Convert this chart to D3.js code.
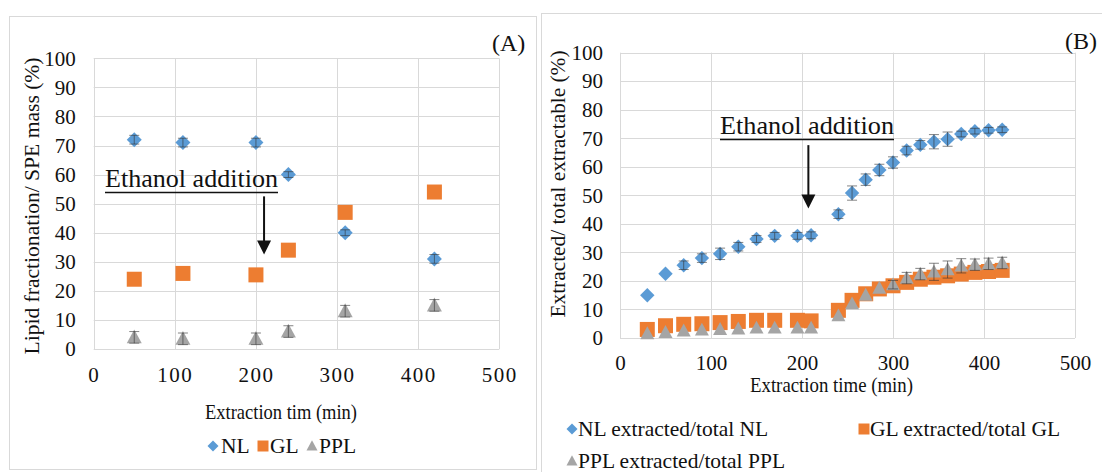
<!DOCTYPE html>
<html><head><meta charset="utf-8">
<script src="https://cdn.jsdelivr.net/npm/d3@7"></script>
<style>
html,body{margin:0;padding:0;background:#fff;}
svg{display:block;font-family:"Liberation Serif","Times New Roman",Tinos,"DejaVu Serif",serif;}
svg text{font-family:"Liberation Serif","Times New Roman",Tinos,"DejaVu Serif",serif;}
</style></head>
<body><svg id="c" width="1102" height="472"></svg>
<script>
// ---- Panel A data ----
const timeA = [50, 110, 200, 240, 310, 420];
const nlA = [72, 71, 71, 60, 40, 31];
const glA = [24, 26, 25.5, 34, 47, 54];
const pplA = [4, 3.5, 3.5, 6, 13, 15];
const nlAErr = [1.5, 1.5, 1.5, 1, 1, 1.5];
const glAErr = [0, 0, 0, 0, 0, 0];
const pplAErr = [2, 2, 2, 2, 2, 2];
// ---- Panel B data ----
const timeB = [30, 50, 70, 90, 110, 130, 150, 170, 195, 210, 240, 255, 270, 285, 300, 315, 330, 345, 360, 375, 390, 405, 420];
const nlB = [15, 22.5, 25.5, 28, 29.5, 32, 34.7, 35.8, 35.8, 36, 43.4, 50.8, 55.5, 58.9, 61.5, 65.7, 67.7, 68.8, 69.7, 71.5, 72.5, 72.8, 73];
const glB = [3, 4.3, 4.8, 5, 5.4, 5.8, 6.2, 6.2, 6.2, 6, 9.7, 13.2, 15.5, 17.2, 18.3, 19.5, 20.6, 21.3, 21.8, 22.4, 23, 23.3, 23.7];
const pplB = [1.5, 2, 2.5, 2.8, 3, 3.2, 3.5, 3.5, 3.5, 3.5, 7.8, 12, 15, 17.5, 18.7, 21, 22.4, 23.2, 24, 25.3, 25.7, 26, 26.3];
const nlBErr = [0, 0, 1.5, 1.5, 2, 1.5, 1.2, 1.2, 1.2, 1.2, 1.5, 2.5, 2, 2, 2, 1.5, 1.5, 2.5, 2.5, 1, 1, 1, 1];
const glBErr = [0, 0, 0, 0, 0, 0, 0, 0, 0, 0, 0, 0, 0, 0, 0, 0, 0, 0, 0, 0, 0, 0, 0];
const pplBErr = [0, 0, 0, 0, 0, 0, 0, 0, 0, 0, 0, 0, 0, 0, 1.5, 2, 2, 3, 3, 2.5, 2, 2, 2];
// ---- ticks / labels ----
const yTicks = [0, 10, 20, 30, 40, 50, 60, 70, 80, 90, 100];
const xTicks = [0, 100, 200, 300, 400, 500];
const seriesNamesA = ["NL", "GL", "PPL"];
const seriesNamesB = ["NL extracted/total NL", "GL extracted/total GL", "PPL extracted/total PPL"];
const colors = ["#5B9BD5", "#ED7D31", "#A5A5A5"];

const svg = d3.select("#c");

const shapes = {
  diamond: r => `M0,${-r}L${r},0L0,${r}L${-r},0Z`,
  square: r => `M${-r},${-r}H${r}V${r}H${-r}Z`,
  triangle: r => `M0,${-r*1.05}L${r},${r*0.8}L${-r},${r*0.8}Z`
};
const shapeOrder = ["diamond", "square", "triangle"];

// panel frames
svg.append("rect").attr("x", 9.5).attr("y", 16.5).attr("width", 527).attr("height", 453)
  .attr("fill", "none").attr("stroke", "#D9D9D9");
svg.append("rect").attr("x", 541.5).attr("y", 13.5).attr("width", 600).attr("height", 500)
  .attr("fill", "none").attr("stroke", "#D9D9D9");

function panel(cfg) {
  const x = d3.scaleLinear().domain([0, 500]).range(cfg.xr);
  const y = d3.scaleLinear().domain([0, 100]).range(cfg.yr);
  const g = svg.append("g");
  // grid
  g.selectAll(".hg").data(yTicks).join("line")
    .attr("x1", x(0)).attr("x2", x(500)).attr("y1", d => Math.round(y(d)) + 0.5).attr("y2", d => Math.round(y(d)) + 0.5)
    .attr("stroke", "#D9D9D9").attr("stroke-width", 1);
  g.selectAll(".vg").data(xTicks).join("line")
    .attr("y1", y(0)).attr("y2", y(100)).attr("x1", d => Math.round(x(d)) + 0.5).attr("x2", d => Math.round(x(d)) + 0.5)
    .attr("stroke", "#D9D9D9").attr("stroke-width", 1);
  // axes (labels only)
  const ya = g.append("g").attr("transform", `translate(${x(0)},0)`)
    .call(d3.axisLeft(y).tickValues(yTicks).tickSize(0).tickPadding(cfg.yPad));
  const xa = g.append("g").attr("transform", `translate(0,${y(0)})`)
    .call(d3.axisBottom(x).tickValues(xTicks).tickSize(0).tickPadding(cfg.xPad));
  [ya, xa].forEach(a => {
    a.select(".domain").remove();
    a.attr("font-family", null).attr("font-size", null);
    a.selectAll("text").attr("font-size", 21).attr("fill", "#111");
  });
  if (cfg.xLetter) xa.selectAll("text").attr("letter-spacing", cfg.xLetter);

  // series
  cfg.series.forEach((s, si) => {
    const pts = cfg.time.map((t, i) => ({ t, v: s.vals[i], e: s.err[i] }));
    const r = cfg.sizes[si];
    g.append("g").selectAll("path").data(pts).join("path")
      .attr("d", shapes[shapeOrder[si]](r))
      .attr("transform", d => `translate(${x(d.t)},${y(d.v)})`)
      .attr("fill", colors[si]);
  });
  // error bars on top
  cfg.series.forEach((s, si) => {
    const pts = cfg.time.map((t, i) => ({ t, v: s.vals[i], e: s.err[i] })).filter(d => d.e > 0);
    const eg = g.append("g").attr("stroke", "#333").attr("stroke-width", 1).attr("stroke-opacity", 0.6);
    eg.selectAll(".v").data(pts).join("line")
      .attr("x1", d => x(d.t)).attr("x2", d => x(d.t))
      .attr("y1", d => y(d.v - d.e)).attr("y2", d => y(d.v + d.e));
    eg.selectAll(".ct").data(pts).join("line")
      .attr("x1", d => x(d.t) - 5).attr("x2", d => x(d.t) + 5)
      .attr("y1", d => y(d.v + d.e)).attr("y2", d => y(d.v + d.e));
    eg.selectAll(".cb").data(pts).join("line")
      .attr("x1", d => x(d.t) - 5).attr("x2", d => x(d.t) + 5)
      .attr("y1", d => y(d.v - d.e)).attr("y2", d => y(d.v - d.e));
  });

  // annotation
  const an = cfg.ann;
  g.append("text").attr("x", an.tx).attr("y", an.ty).attr("font-size", 25)
    .attr("textLength", an.tl).attr("lengthAdjust", "spacingAndGlyphs").attr("fill", "#111").text("Ethanol addition");
  g.append("line").attr("x1", an.tx).attr("x2", an.tx + an.tl).attr("y1", an.uy).attr("y2", an.uy)
    .attr("stroke", "#111").attr("stroke-width", 1.6);
  const ax = x(an.ax), a1 = y(an.a1), a2 = y(an.a2);
  g.append("line").attr("x1", ax).attr("x2", ax).attr("y1", a1).attr("y2", a2 - 12)
    .attr("stroke", "#111").attr("stroke-width", 2);
  g.append("path").attr("d", `M${ax - 7},${a2 - 14}L${ax + 7},${a2 - 14}L${ax},${a2}Z`).attr("fill", "#111");

  // panel label
  g.append("text").attr("x", cfg.lab.x).attr("y", cfg.lab.y).attr("font-size", 24)
    .attr("fill", "#111").text(cfg.lab.t);
  // y title
  g.append("text").attr("transform", `translate(${cfg.yt.x},${cfg.yt.y}) rotate(-90)`)
    .attr("text-anchor", "middle").attr("font-size", 21)
    .attr("textLength", cfg.yt.l).attr("lengthAdjust", "spacingAndGlyphs").attr("fill", "#111").text(cfg.yt.t);
  // x title
  g.append("text").attr("x", cfg.xt.x).attr("y", cfg.xt.y).attr("font-size", 21)
    .attr("textLength", cfg.xt.l).attr("lengthAdjust", "spacingAndGlyphs").attr("fill", "#111").text(cfg.xt.t);
  // legend
  cfg.leg.forEach((L, i) => {
    g.append("path").attr("d", shapes[shapeOrder[i]](5.5)).attr("transform", `translate(${L.mx},${L.y})`).attr("fill", colors[i]);
    g.append("text").attr("x", L.tx).attr("y", L.y + 7).attr("font-size", 21.5)
      .attr("fill", "#111").text(L.t);
  });
}

panel({
  xr: [93.7, 499.3], yr: [349, 58.3], yPad: 18, xPad: 18, xLetter: "1.5px",
  time: timeA,
  series: [{ vals: nlA, err: nlAErr }, { vals: glA, err: glAErr }, { vals: pplA, err: pplAErr }],
  sizes: [7.5, 7.5, 7.5],
  ann: { tx: 105, ty: 187, tl: 173, uy: 192.5, ax: 210, a1: 52.5, a2: 32.5 },
  lab: { x: 492, y: 51, t: "(A)" },
  yt: { x: 39, y: 206, l: 297, t: "Lipid fractionation/ SPE  mass (%)" },
  xt: { x: 205, y: 419, l: 152, t: "Extraction tim (min)" },
  leg: [
    { mx: 213, y: 446, tx: 221, t: seriesNamesA[0] },
    { mx: 263, y: 446, tx: 270, t: seriesNamesA[1] },
    { mx: 312, y: 446, tx: 319, t: seriesNamesA[2] }
  ]
});

panel({
  xr: [620, 1075], yr: [338, 52.7], yPad: 17, xPad: 17,
  time: timeB,
  series: [{ vals: nlB, err: nlBErr }, { vals: glB, err: glBErr }, { vals: pplB, err: pplBErr }],
  sizes: [7.2, 7.5, 7],
  ann: { tx: 720, ty: 134, tl: 174, uy: 139.5, ax: 207, a1: 67.6, a2: 45.4 },
  lab: { x: 1065, y: 49, t: "(B)" },
  yt: { x: 565, y: 184, l: 267, t: "Extracted/ total extractable (%)" },
  xt: { x: 750, y: 392, l: 163, t: "Extraction time (min)" },
  leg: [
    { mx: 572, y: 429, tx: 578, t: seriesNamesB[0] },
    { mx: 864, y: 429, tx: 870, t: seriesNamesB[1] },
    { mx: 572, y: 461, tx: 578, t: seriesNamesB[2] }
  ]
});
</script></body></html>
